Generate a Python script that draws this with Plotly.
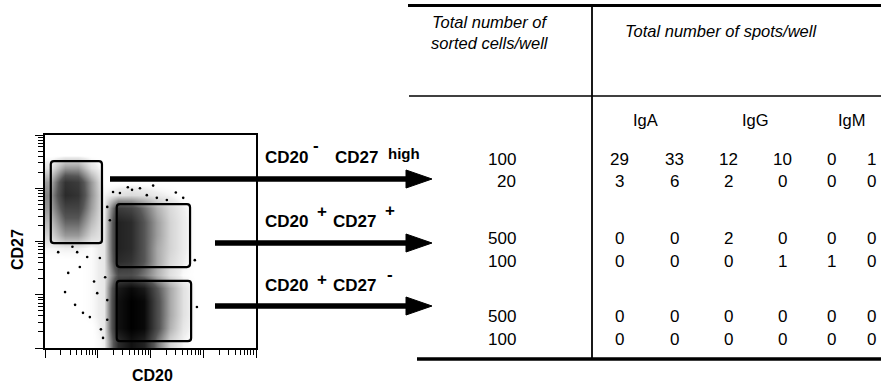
import math
import plotly.graph_objects as go

W, H = 881, 386

# ---------------- flow cytometry panel (values in log10 fluorescence units) -------------
grid_cd20 = [0.125, 0.375, 0.625, 0.875, 1.125, 1.375, 1.625, 1.875,
             2.125, 2.375, 2.625, 2.875, 3.125, 3.375, 3.625, 3.875]
grid_cd27 = [0.125, 0.375, 0.625, 0.875, 1.125, 1.375, 1.625, 1.875,
             2.125, 2.375, 2.625, 2.875, 3.125, 3.375, 3.625, 3.875]
# estimated dot density per cell (0 = empty, 1 = solid black), rows from low CD27 to high CD27
cell_density = [
    [0, 0, 0, 0, .04, .75, .90, .80, .40, .12, .03, 0, 0, 0, 0, 0],
    [0, 0, 0, 0, .06, .90, 1.0, .95, .55, .22, .06, 0, 0, 0, 0, 0],
    [0, 0, 0, .02, .06, .90, 1.0, .95, .55, .25, .08, 0, 0, 0, 0, 0],
    [0, 0, 0, .02, .06, .90, 1.0, .95, .55, .25, .08, 0, 0, 0, 0, 0],
    [0, 0, 0, .02, .06, .85, .95, .85, .50, .25, .08, 0, 0, 0, 0, 0],
    [0, 0, 0, .02, .06, .55, .55, .40, .22, .08, .02, 0, 0, 0, 0, 0],
    [0, 0, 0, .02, .06, .75, .70, .50, .25, .10, .04, 0, 0, 0, 0, 0],
    [.03, .04, .04, .02, .06, .80, .75, .50, .25, .12, .05, 0, 0, 0, 0, 0],
    [.12, .30, .30, .12, .06, .80, .75, .50, .28, .12, .05, 0, 0, 0, 0, 0],
    [.20, .45, .45, .20, .05, .80, .75, .50, .28, .12, .05, 0, 0, 0, 0, 0],
    [.30, .60, .60, .28, .04, .65, .60, .42, .22, .10, .04, 0, 0, 0, 0, 0],
    [.35, .75, .70, .32, .03, .08, .10, .08, .05, .03, 0, 0, 0, 0, 0, 0],
    [.28, .70, .65, .30, 0, 0, 0, 0, 0, 0, 0, 0, 0, 0, 0, 0],
    [.08, .30, .30, .08, 0, 0, 0, 0, 0, 0, 0, 0, 0, 0, 0, 0],
    [0, 0, 0, 0, 0, 0, 0, 0, 0, 0, 0, 0, 0, 0, 0, 0],
    [0, 0, 0, 0, 0, 0, 0, 0, 0, 0, 0, 0, 0, 0, 0, 0],
]
# isolated events outside the dense populations
sparse_cd20 = [0.25, 0.44, 0.66, 0.80, 1.04, 0.38, 0.57, 0.72, 0.99, 0.85, 1.14, 1.18, 1.18,
               1.10, 0.61, 1.29, 1.42, 1.65, 1.80, 1.93, 2.12, 2.31, 2.62, 1.18, 1.23, 2.84, 2.88,
               0.52, 0.93, 1.06, 2.48, 2.05, 1.57]
sparse_cd27 = [1.80, 1.41, 1.52, 1.71, 1.69, 1.05, 0.81, 0.66, 1.03, 0.58, 1.33, 0.90, 0.53,
               0.19, 1.80, 2.93, 2.91, 2.97, 3.00, 2.87, 2.82, 2.78, 2.82, 2.65, 2.40, 1.65, 0.77,
               1.90, 1.25, 0.35, 2.92, 3.05, 3.02]

# sorting gates
gate_names = ["CD20-CD27high", "CD20+CD27+", "CD20+CD27-"]
gate_cd20_lo = [0.11, 1.36, 1.36]
gate_cd20_hi = [1.08, 2.75, 2.77]
gate_cd27_lo = [1.97, 1.52, 0.13]
gate_cd27_hi = [3.51, 2.70, 1.26]

# ---------------- ELISPOT table -------------
sorted_cells = [100, 20, 500, 100, 500, 100]
iga = [[29, 33], [3, 6], [0, 0], [0, 0], [0, 0], [0, 0]]
igg = [[12, 10], [2, 0], [2, 0], [0, 1], [0, 0], [0, 0]]
igm = [[0, 1], [0, 0], [0, 0], [1, 0], [0, 0], [0, 0]]
isotypes = ["IgA", "IgG", "IgM"]

FONT = "Liberation Sans, Arial, Helvetica, sans-serif"


def px(x):
    return x / W


def py(y):
    return 1 - y / H


fig = go.Figure()

fig.add_trace(go.Heatmap(
    x=grid_cd20, y=grid_cd27, z=cell_density,
    zmin=0, zmax=1, zsmooth="best", showscale=False, hoverinfo="skip",
    colorscale=[[0, "rgba(255,255,255,0)"], [0.04, "#eeeeee"], [0.5, "#555555"], [1, "#000000"]],
))
fig.add_trace(go.Scatter(
    x=sparse_cd20, y=sparse_cd27, mode="markers",
    marker=dict(size=2.6, color="black"), hoverinfo="skip", showlegend=False,
))

# gates as rounded rectangles
shapes = []
for i in range(len(gate_names)):
    x0, x1, y0, y1 = gate_cd20_lo[i], gate_cd20_hi[i], gate_cd27_lo[i], gate_cd27_hi[i]
    r = 0.06
    path = (f"M {x0+r},{y0} L {x1-r},{y0} Q {x1},{y0} {x1},{y0+r} L {x1},{y1-r} "
            f"Q {x1},{y1} {x1-r},{y1} L {x0+r},{y1} Q {x0},{y1} {x0},{y1-r} "
            f"L {x0},{y0+r} Q {x0},{y0} {x0+r},{y0} Z")
    shapes.append(dict(type="path", path=path, xref="x", yref="y",
                       line=dict(color="black", width=2.2), layer="above"))

# arrows from gates to table rows
arrow_rows = [(110, 179), (215, 243), (215, 306)]
for x_start, yy in arrow_rows:
    shapes.append(dict(type="line", xref="paper", yref="paper",
                       x0=px(x_start), x1=px(410), y0=py(yy), y1=py(yy),
                       line=dict(color="black", width=5.5)))
    shapes.append(dict(type="path", xref="paper", yref="paper",
                       path=f"M {px(406)},{py(yy-9)} L {px(432)},{py(yy)} L {px(406)},{py(yy+9)} Z",
                       fillcolor="black", line=dict(color="black", width=1)))

# table rules
shapes += [
    dict(type="line", xref="paper", yref="paper", x0=px(408), x1=1, y0=py(5.5), y1=py(5.5),
         line=dict(color="black", width=3)),
    dict(type="line", xref="paper", yref="paper", x0=px(409), x1=1, y0=py(96), y1=py(96),
         line=dict(color="black", width=1.6)),
    dict(type="line", xref="paper", yref="paper", x0=px(592), x1=px(592), y0=py(5), y1=py(359),
         line=dict(color="black", width=1.8)),
    dict(type="line", xref="paper", yref="paper", x0=px(417), x1=1, y0=py(359), y1=py(359),
         line=dict(color="black", width=3.5)),
]

annotations = []


def ann(text, x, y, size=17, weight="normal", style="normal", xanchor="center"):
    annotations.append(dict(
        text=text, x=px(x), y=py(y), xref="paper", yref="paper",
        xanchor=xanchor, yanchor="middle", showarrow=False,
        font=dict(family=FONT, size=size, color="black", weight=weight, style=style)))


# axis titles
ann("CD20", 152, 375, size=16, weight="bold")
annotations.append(dict(text="CD27", x=px(17), y=py(250), xref="paper", yref="paper",
                        textangle=-90, showarrow=False, xanchor="center", yanchor="middle",
                        font=dict(family=FONT, size=16, color="black", weight="bold")))

# population labels
ann("CD20", 263, 157, weight="bold", xanchor="left")
ann("-", 316, 145, weight="bold")
ann("CD27", 333, 157, weight="bold", xanchor="left")
ann("high", 386, 153, size=15, weight="bold", xanchor="left")

ann("CD20", 263, 221, weight="bold", xanchor="left")
ann("+", 322, 212, weight="bold")
ann("CD27", 331, 221, weight="bold", xanchor="left")
ann("+", 390, 210, weight="bold")

ann("CD20", 263, 285, weight="bold", xanchor="left")
ann("+", 322, 279, weight="bold")
ann("CD27", 331, 285, weight="bold", xanchor="left")
ann("-", 390, 274, weight="bold")

# table header
ann("Total number of", 490, 22, size=16.5, style="italic")
ann("sorted cells/well", 490, 43, size=16.5, style="italic")
ann("Total number of spots/well", 721, 31, size=16.5, style="italic")
iso_x = [645, 755, 852]
for name, xx in zip(isotypes, iso_x):
    ann(name, xx, 120, size=16.5)

# table body
row_y = [159, 181, 238, 261, 316, 339]
col_x = [619, 674, 728, 782, 831, 871]
for r, yy in enumerate(row_y):
    ann(str(sorted_cells[r]), 518, yy, xanchor="right")
    vals = iga[r] + igg[r] + igm[r]
    for v, xx in zip(vals, col_x):
        ann(str(v), xx, yy)

minor_vals = [d + math.log10(k) for d in range(4) for k in range(2, 10)]
axis_common = dict(range=[0, 4], showgrid=False, zeroline=False, showline=True,
                   linecolor="black", linewidth=1.5, mirror=True,
                   ticks="outside", tickvals=[0, 1, 2, 3, 4], ticklen=8, tickwidth=1.4,
                   tickcolor="black", showticklabels=False, fixedrange=True,
                   minor=dict(tickvals=minor_vals, ticks="outside", ticklen=5,
                              tickwidth=1.1, tickcolor="black"))

fig.update_layout(
    width=W, height=H, autosize=False,
    margin=dict(l=0, r=0, t=0, b=0),
    paper_bgcolor="white", plot_bgcolor="white",
    showlegend=False,
    xaxis=dict(domain=[px(45), px(256)], **axis_common),
    yaxis=dict(domain=[py(348), py(135)], **axis_common),
    shapes=shapes, annotations=annotations,
)

fig.write_html("out.html", config={"displayModeBar": False},
               post_script="document.body.style.margin='0px';document.body.style.overflow='hidden';")
